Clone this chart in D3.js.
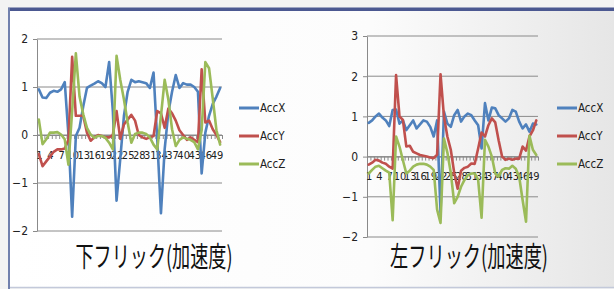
<!DOCTYPE html>
<html>
<head>
<meta charset="utf-8">
<script src="https://cdn.jsdelivr.net/npm/d3@7"></script>
<style>
body { margin: 0; background: #fff; }
svg { display: block; }
</style>
</head>
<body>
<div class="chart"></div>
<script>
// カテゴリ (1〜50) とラベル
const categories = d3.range(1, 51);
const categoryLabels = d3.range(1, 51, 3); // 1,4,7,...,49
const seriesNames = ["AccX", "AccY", "AccZ"];
const seriesColors = ["#4F81BD", "#C0504D", "#9BBB59"];

// 下フリック
const downTitle = "下フリック(加速度)";
const downTicks = [-2, -1, 0, 1, 2];
const downX = [0.95, 0.78, 0.77, 0.88, 0.92, 0.9, 0.95, 1.1, 0.0, -1.7,
    -0.02, 0.15, 0.6, 0.98, 1.03, 1.07, 1.12, 1.08, 1.0, 1.52,
    0.5, -1.37, -0.5, 0.4, 0.9, 1.15, 1.1, 1.12, 1.1, 1.08,
    0.98, 1.3, -0.1, -1.63, -0.3, 0.47, 0.9, 1.25, 0.98, 1.08,
    1.05, 1.05, 1.0, 0.9, -0.8, 0.05, 0.4, 0.65, 0.8, 0.98];
const downY = [-0.4, -0.65, -0.55, -0.45, -0.35, -0.3, -0.3, -0.28, -0.1, 1.63,
    0.4, 0.4, 0.4, 0.05, -0.12, -0.05, 0.0, -0.02, -0.05, -0.05,
    0.0, 0.5, -0.08, 0.22, 0.32, 0.42, 0.3, 0.0, -0.05, -0.08,
    -0.05, -0.02, 0.5, 0.45, 0.15, 0.55, 0.45, 0.3, 0.1, 0.0,
    -0.1, -0.05, -0.1, -0.15, 1.37, 0.26, 0.3, 0.12, 0.0, -0.15];
const downZ = [0.32, -0.19, -0.09, 0.05, 0.05, 0.06, 0.01, -0.09, -0.62, 0.5,
    1.7, 0.8, 0.43, 0.15, 0.01, -0.06, -0.02, -0.02, -0.06, -0.16,
    -0.3, 1.65, 1.15, 0.74, 0.26, -0.16, 0.02, 0.05, 0.05, 0.02,
    -0.05, -0.2, -0.3, 0.4, 1.15, 0.74, 0.12, -0.23, -0.1, -0.05,
    -0.08, -0.1, -0.15, -0.3, 0.1, 1.52, 1.39, 0.76, 0.1, -0.2];

// 左フリック
const leftTitle = "左フリック(加速度)";
const leftTicks = [-2, -1, 0, 1, 2, 3];
const leftX = [0.84, 0.9, 1.0, 1.07, 0.97, 0.9, 0.76, 1.16, 1.17, 0.82,
    0.9, 0.66, 0.78, 0.9, 0.7, 0.8, 0.9, 0.87, 0.74, 0.5,
    0.9, -1.4, 1.12, 0.82, 0.74, 1.03, 1.16, 0.87, 1.0, 1.07,
    1.03, 0.9, 0.78, 0.2, 1.33, 0.9, 1.22, 1.2, 1.03, 0.95,
    0.87, 0.95, 1.16, 1.12, 0.87, 0.7, 0.8, 0.62, 0.82, 0.8];
const leftY = [-0.2, -0.15, -0.08, -0.1, -0.15, -0.18, -0.25, -0.3, 2.03, 1.0,
    0.91, 0.25, 0.27, 0.12, 0.08, 0.04, 0.02, 0.0, -0.02, -0.04,
    0.05, 2.05, 1.0, 0.5, 0.17, -0.4, -0.8, -0.35, -0.28, -0.25,
    -0.17, -0.18, 0.2, 0.6, 0.5, 0.78, 0.95, 0.85, 0.4, 0.0,
    -0.08, -0.05, -0.08, -0.05, -0.05, 0.25, 0.15, 0.5, 0.65, 0.9];
const leftZ = [-0.42, -0.33, -0.25, -0.23, -0.29, -0.35, -0.4, -1.58, 0.5, 0.25,
    -0.09, -0.42, -0.35, -0.25, -0.2, -0.18, -0.18, -0.2, -0.25, -0.33,
    -1.32, -1.65, 0.45, 0.1, -0.4, -1.16, -1.0, -0.75, -0.58, -0.46,
    -0.42, -0.42, -0.58, -1.52, 0.42, 0.25, 0.0, -0.42, -0.5, -0.33,
    -0.29, -0.3, -0.23, -0.3, -0.5, -1.08, -1.62, 0.52, 0.17, 0.04];

const W = 614, H = 289;
const narrow = '"Liberation Sans Narrow","DejaVu Sans Condensed",sans-serif';

const svg = d3.select(".chart")
    .append("svg")
    .attr("width", W)
    .attr("height", H);

// 背景 (右側が少し灰色になるグラデーション)
const defs = svg.append("defs");
const grad = defs.append("linearGradient").attr("id", "bg").attr("x1", 0).attr("x2", 1).attr("y1", 0).attr("y2", 0);
grad.append("stop").attr("offset", "0%").attr("stop-color", "#ffffff");
grad.append("stop").attr("offset", "60%").attr("stop-color", "#fcfcfc");
grad.append("stop").attr("offset", "100%").attr("stop-color", "#e6e6e6");

svg.append("rect").attr("width", W).attr("height", H).attr("fill", "#f3f3f3");
svg.append("rect").attr("x", 9).attr("y", 9).attr("width", W - 9).attr("height", 278).attr("fill", "url(#bg)");

// 枠線
svg.append("rect").attr("x", 8).attr("y", 7.5).attr("width", W - 8).attr("height", 3.5).attr("fill", "#4b5891");
svg.append("rect").attr("x", 8).attr("y", 8).attr("width", 2).attr("height", H - 8).attr("fill", "#7180ad");
svg.append("line").attr("x1", 10).attr("x2", W).attr("y1", 287.5).attr("y2", 287.5)
    .attr("stroke", "#c3c9da").attr("stroke-width", 1.5);

function drawChart(opt) {
    const g = svg.append("g");
    const x = d3.scaleLinear().domain([0.5, categories.length + 0.5]).range([opt.x0, opt.x1]);
    const y = d3.scaleLinear().domain(d3.extent(opt.ticks)).range([opt.yBot, opt.yTop]);

    // グリッド線
    g.selectAll(".grid")
        .data(opt.ticks)
        .enter()
        .append("line")
        .attr("x1", opt.x0)
        .attr("x2", opt.x1)
        .attr("y1", d => y(d))
        .attr("y2", d => y(d))
        .attr("stroke", "#8a8a8a")
        .attr("stroke-width", 1);

    // 縦軸
    const yAxis = g.append("g")
        .attr("transform", `translate(${opt.x0},0)`)
        .call(d3.axisLeft(y).tickValues(opt.ticks).tickSizeInner(4).tickSizeOuter(0).tickPadding(5).tickFormat(d3.format("d")));
    yAxis.select(".domain").attr("stroke", "#8a8a8a");
    yAxis.selectAll(".tick line").attr("stroke", "#8a8a8a");
    yAxis.selectAll("text").attr("font-family", narrow).attr("font-size", 12).attr("fill", "#222");

    // 横軸 (目盛)
    const xAxis = g.append("g")
        .attr("transform", `translate(0,${y(0)})`)
        .call(d3.axisBottom(x).tickValues(d3.range(0.5, categories.length + 1, 1)).tickSizeInner(4).tickSizeOuter(0).tickFormat(""));
    xAxis.select(".domain").attr("stroke", "#8a8a8a");
    xAxis.selectAll(".tick line").attr("stroke", "#8a8a8a");

    // 横軸 (ラベル)
    const xLabels = g.append("g")
        .attr("transform", `translate(0,${y(0)})`)
        .call(d3.axisBottom(x).tickValues(categoryLabels).tickSize(0).tickPadding(16));
    xLabels.select(".domain").remove();
    xLabels.selectAll("text").attr("font-family", narrow).attr("font-size", 11).attr("fill", "#222");

    // 折れ線
    const line = d3.line()
        .x((d, i) => x(categories[i]))
        .y(d => y(d));

    g.selectAll(".series")
        .data(opt.series)
        .enter()
        .append("path")
        .attr("d", d => line(d))
        .attr("fill", "none")
        .attr("stroke", (d, i) => seriesColors[i])
        .attr("stroke-width", 2.6)
        .attr("stroke-linejoin", "round")
        .attr("stroke-linecap", "round");

    // 凡例
    const legend = g.selectAll(".legend")
        .data(seriesNames)
        .enter()
        .append("g")
        .attr("transform", (d, i) => `translate(${opt.legendX},${opt.legendY + i * 28})`);
    legend.append("line")
        .attr("x1", 0).attr("x2", 20)
        .attr("stroke", (d, i) => seriesColors[i])
        .attr("stroke-width", 3);
    legend.append("text")
        .attr("x", 21)
        .attr("dy", "0.35em")
        .attr("font-family", narrow)
        .attr("font-size", 11.5)
        .attr("fill", "#222")
        .text(d => d);

    // タイトル
    g.append("text")
        .attr("x", opt.titleX)
        .attr("y", 267)
        .attr("text-anchor", "middle")
        .attr("font-family", '"Noto Sans CJK JP",sans-serif')
        .attr("font-size", 28)
        .attr("textLength", opt.titleW)
        .attr("lengthAdjust", "spacingAndGlyphs")
        .attr("fill", "#111")
        .text(opt.title);
}

drawChart({
    x0: 37, x1: 222, yTop: 39, yBot: 231, ticks: downTicks,
    series: [downX, downY, downZ],
    legendX: 239, legendY: 108,
    title: downTitle, titleX: 154, titleW: 157
});

drawChart({
    x0: 367, x1: 538, yTop: 36, yBot: 237, ticks: leftTicks,
    series: [leftX, leftY, leftZ],
    legendX: 557, legendY: 108,
    title: leftTitle, titleX: 469, titleW: 158
});
</script>
</body>
</html>
